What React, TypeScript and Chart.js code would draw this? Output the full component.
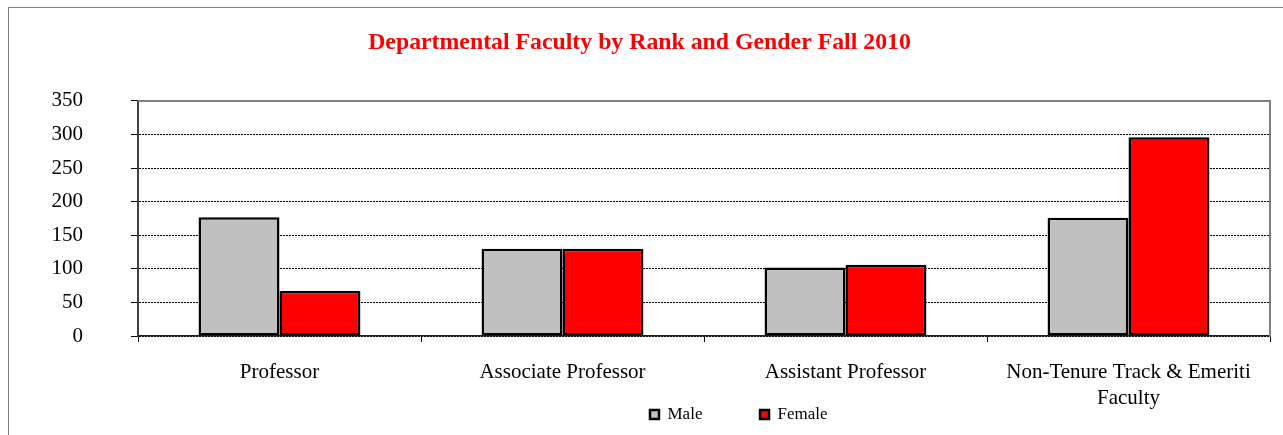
import { useEffect, useRef } from "react";
import { Chart, registerables } from "chart.js";

Chart.register(...registerables);

const titleText = "Departmental Faculty by Rank and Gender Fall 2010";
const categories: (string | string[])[] = [
  "Professor",
  "Associate Professor",
  "Assistant Professor",
  ["Non-Tenure Track & Emeriti", "Faculty"],
];
const seriesNames = ["Male", "Female"];
const maleValues = [177, 130, 102, 176];
const femaleValues = [67, 130, 106, 296];
const yMin = 0;
const yMax = 350;
const yStep = 50;

const SERIF = '"Times New Roman", "Liberation Serif", Times, serif';
const LEGEND_PAD = 57.6;
const LEGEND_FIRST_BOX_X = 641;
const LEGEND_ITEM_TOP = 398;

const framePlugin = {
  id: "plotFrame",
  afterDraw(chart: any) {
    const { ctx, chartArea: a } = chart;
    ctx.save();
    ctx.strokeStyle = "#808080";
    ctx.lineWidth = 2;
    ctx.beginPath();
    ctx.moveTo(a.left, a.top);
    ctx.lineTo(a.right, a.top);
    ctx.lineTo(a.right, a.bottom);
    ctx.stroke();
    ctx.restore();
  },
};

const legendShift = {
  id: "legendShift",
  afterLayout(chart: any) {
    const l = chart.legend;
    if (!l) return;
    const w = l.width;
    l.left = LEGEND_FIRST_BOX_X - LEGEND_PAD;
    l.right = l.left + w;
    l.top = LEGEND_ITEM_TOP - LEGEND_PAD;
    l.bottom = chart.height;
  },
};

export default function App() {
  const ref = useRef<HTMLCanvasElement>(null);

  useEffect(() => {
    document.documentElement.style.overflow = "hidden";
    document.body.style.overflow = "hidden";
    const canvas = ref.current!;
    const yTickFont = { family: SERIF, size: 21 };
    const xTickFont = { family: SERIF, size: 21, lineHeight: 1.25 };
    const chart = new Chart(canvas, {
      type: "bar",
      data: {
        labels: categories,
        datasets: [
          {
            label: seriesNames[0],
            data: maleValues,
            backgroundColor: "#C0C0C0",
            borderColor: "#000000",
            borderWidth: 2.5,
            borderSkipped: false,
            categoryPercentage: 0.572,
            barPercentage: 1,
          },
          {
            label: seriesNames[1],
            data: femaleValues,
            backgroundColor: "#FF0000",
            borderColor: "#000000",
            borderWidth: 2.5,
            borderSkipped: false,
            categoryPercentage: 0.572,
            barPercentage: 1,
          },
        ],
      },
      options: {
        responsive: false,
        animation: false,
        devicePixelRatio: 1,
        layout: { padding: { left: 0, right: 13, top: 0, bottom: 0 } },
        plugins: {
          title: {
            display: true,
            text: titleText,
            color: "#FF0000",
            font: { family: SERIF, size: 23.8, weight: "bold", lineHeight: 1.2 },
            padding: { top: 20.2, bottom: 44.2 },
          },
          legend: {
            position: "bottom",
            align: "start",
            maxHeight: 20,
            labels: {
              boxWidth: 9,
              boxHeight: 9,
              padding: LEGEND_PAD,
              color: "#000000",
              font: { family: SERIF, size: 17 },
            },
          },
          tooltip: { enabled: false },
        },
        scales: {
          x: {
            grid: {
              display: true,
              drawOnChartArea: false,
              drawTicks: true,
              tickLength: 6,
              color: "#000000",
              offset: true,
            },
            border: { display: true, color: "#202020", width: 1.5 },
            ticks: {
              color: "#000000",
              font: xTickFont,
              padding: 17,
              maxRotation: 0,
              autoSkip: false,
            },
            afterFit(s: any) {
              s.height = 79;
            },
          },
          y: {
            min: yMin,
            max: yMax,
            ticks: { stepSize: yStep, color: "#000000", font: yTickFont, padding: 48 },
            grid: {
              color: "#000000",
              lineWidth: 1,
              tickLength: 7,
              tickColor: "#000000",
              drawTicks: true,
            },
            border: { display: true, color: "#404040", width: 2, dash: [2, 1] },
            afterFit(s: any) {
              s.width = 129;
            },
          },
        },
      },
      plugins: [framePlugin, legendShift],
    } as any);
    return () => chart.destroy();
  }, []);

  return (
    <div
      style={{
        position: "absolute",
        left: 8,
        top: 7,
        width: 1275,
        height: 428,
        boxSizing: "border-box",
        borderLeft: "1px solid #808080",
        borderTop: "1px solid #808080",
        overflow: "hidden",
      }}
    >
      <canvas ref={ref} width={1274} height={427} style={{ display: "block", width: 1274, height: 427 }} />
    </div>
  );
}
